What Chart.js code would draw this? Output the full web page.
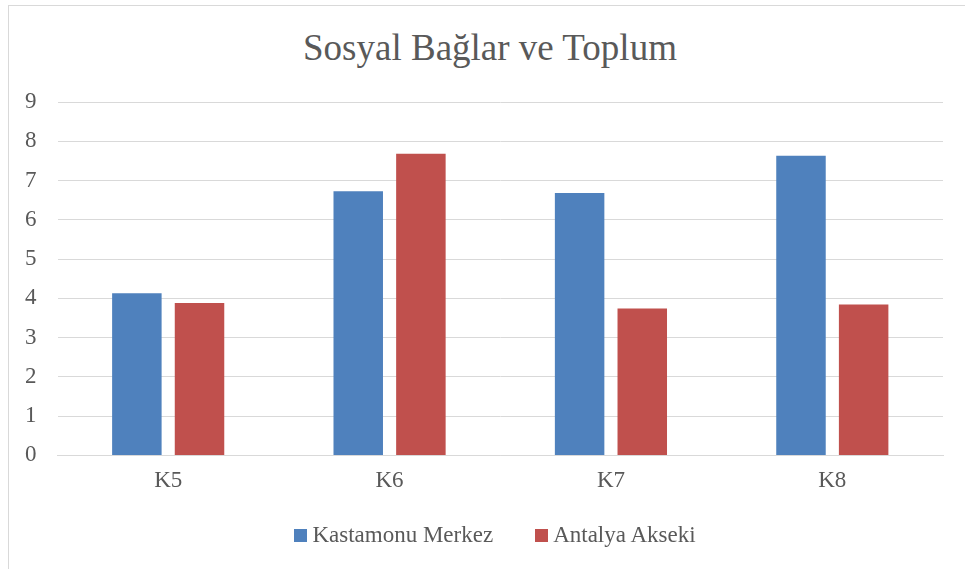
<!DOCTYPE html>
<html>
<head>
<meta charset="utf-8">
<script src="https://cdn.jsdelivr.net/npm/chart.js@4.4.1/dist/chart.umd.min.js"></script>
<style>
  html, body { margin: 0; padding: 0; background: #fff; }
  #frame {
    position: absolute; left: 8px; top: 5px; width: 965px; height: 600px;
    border: 1px solid #d9d9d9; box-sizing: border-box;
  }
  #title {
    position: absolute; left: 0; top: 29px; width: 980px; text-align: center;
    font: 37px 'Liberation Serif', 'DejaVu Serif', serif; line-height: 37px; color: #595959;
  }
  #legend {
    position: absolute; left: 0; top: 521px; width: 990px;
    display: flex; justify-content: center; gap: 42px;
    font: 23px 'Liberation Serif', 'DejaVu Serif', serif; line-height: 28px; color: #595959;
  }
  #legend .item { display: flex; align-items: center; }
  #legend .box { width: 13px; height: 13px; margin-right: 5px; }
  #chart { position: absolute; left: 0; top: 0; }
</style>
</head>
<body>
<div id="frame"></div>
<div id="title">Sosyal Bağlar ve Toplum</div>
<canvas id="chart" width="965" height="569"></canvas>
<div id="legend"></div>
<script>
// chart data
const categories = ['K5', 'K6', 'K7', 'K8'];
const kastamonuMerkez = [4.13, 6.73, 6.68, 7.63];
const antalyaAkseki = [3.88, 7.68, 3.74, 3.84];
const yTicks = [0, 1, 2, 3, 4, 5, 6, 7, 8, 9];

const textColor = '#595959';
const serif = "'Liberation Serif', 'DejaVu Serif', serif";

const ctx = document.getElementById('chart').getContext('2d');
const chart = new Chart(ctx, {
    type: 'bar',
    data: {
        labels: categories,
        datasets: [{
            label: 'Kastamonu Merkez',
            data: kastamonuMerkez,
            backgroundColor: '#4F81BD',
            categoryPercentage: 0.566,
            barPercentage: 0.79
        }, {
            label: 'Antalya Akseki',
            data: antalyaAkseki,
            backgroundColor: '#C0504D',
            categoryPercentage: 0.566,
            barPercentage: 0.79
        }]
    },
    options: {
        responsive: false,
        animation: false,
        layout: { padding: { left: 4, right: 22, top: 102, bottom: 70 } },
        scales: {
            x: {
                grid: { display: false },
                border: { color: '#d9d9d9', width: 1 },
                ticks: { color: textColor, font: { family: serif, size: 23 }, padding: 4 }
            },
            y: {
                min: 0,
                max: 9,
                afterBuildTicks: (axis) => { axis.ticks = yTicks.map(v => ({ value: v })); },
                grid: { color: '#d9d9d9', lineWidth: 1, drawTicks: false },
                border: { display: false },
                ticks: { color: textColor, font: { family: serif, size: 23 }, padding: 21 }
            }
        },
        plugins: {
            title: { display: false },
            legend: { display: false },
            tooltip: { enabled: false }
        }
    }
});

// HTML legend built from the datasets
const legendEl = document.getElementById('legend');
chart.data.datasets.forEach(ds => {
    const item = document.createElement('div');
    item.className = 'item';
    const box = document.createElement('span');
    box.className = 'box';
    box.style.background = ds.backgroundColor;
    const label = document.createElement('span');
    label.textContent = ds.label;
    item.appendChild(box);
    item.appendChild(label);
    legendEl.appendChild(item);
});
</script>
</body>
</html>
